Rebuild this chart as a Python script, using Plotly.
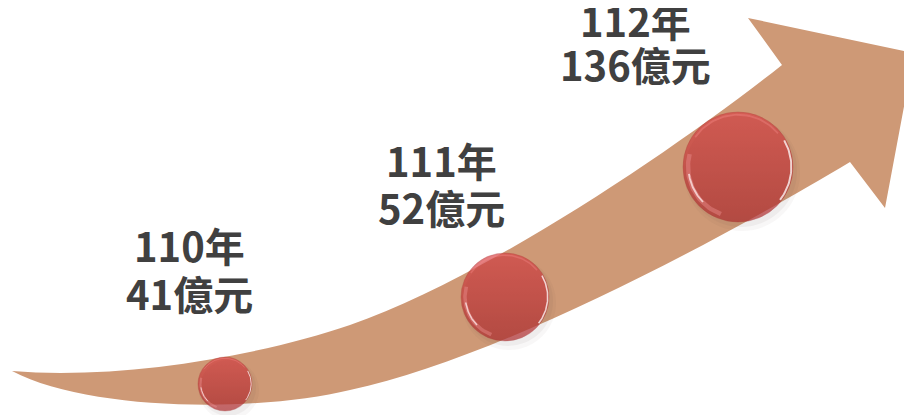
import numpy as np
import plotly.graph_objects as go

# ---- data ----
years = ["110年", "111年", "112年"]
amounts = [41, 52, 136]
unit = "億元"

# ---- layout positions (page pixels, y down) ----
bubble_x = [225, 505, 738]
bubble_y = [384, 297, 167]
bubble_d = [54, 88, 110]
label_x = [189, 441, 635]
label_y_year = [245, 160, 20]
label_y_amount = [293, 207, 64]

PAGE_W, PAGE_H = 912, 415
BODY_MARGIN = 8  # default html body margin
ARROW_COLOR = "#CE9976"
TEXT_COLOR = "#404040"
FONT = "Noto Sans CJK TC"

fig = go.Figure()

arrow_path = (
    "M 12,371 C 120,380 260,356 350,325 "
    "C 490,276 682,144 782,65 "
    "L 748,18 L 914,53 L 885,208 L 850,162 "
    "C 720,240 500,358 350,390 "
    "C 260,412 90,412 12,371 Z"
)
fig.add_shape(type="path", path=arrow_path, xref="x", yref="y",
              fillcolor=ARROW_COLOR, line=dict(width=0), layer="below")

bx = np.array(bubble_x, dtype=float)
by = np.array(bubble_y, dtype=float)
bd = np.array(bubble_d, dtype=float)

# soft shadow
for dx, dy, grow, op in [(4, 6, 6, 0.06), (3, 4, 2, 0.09)]:
    fig.add_trace(go.Scatter(
        x=bx + dx, y=by + dy, mode="markers",
        marker=dict(size=bd + grow, color=f"rgba(90,80,80,{op})", line=dict(width=0)),
        hoverinfo="skip"))

# main bubble (top colour -> bottom colour)
fig.add_trace(go.Scatter(
    x=bx, y=by, mode="markers",
    marker=dict(size=bd, color="#D74446",
                gradient=dict(type="vertical", color="#AD2D2F"),
                line=dict(width=0.6, color="rgba(160,40,40,0.6)")),
    hoverinfo="skip"))


def arc(cx, cy, r, a0, a1, color, width):
    t = np.radians(np.linspace(a0, a1, 40))
    fig.add_trace(go.Scatter(
        x=cx + r * np.cos(t), y=cy + r * np.sin(t), mode="lines",
        line=dict(color=color, width=width), hoverinfo="skip"))


for cx, cy, d in zip(bx, by, bd):
    r = d / 2
    # lower-left glossy rim
    arc(cx, cy, r * 0.91, 110, 195, "rgba(240,150,150,0.40)", max(1.5, r * 0.08))
    arc(cx, cy, r * 0.90, 135, 172, "rgba(255,235,235,0.75)", max(1, r * 0.035))
    # right edge highlight
    arc(cx, cy, r * 0.97, -30, 38, "rgba(255,255,255,0.75)", max(1, r * 0.035))
    # top rim
    arc(cx, cy, r * 0.95, 215, 320, "rgba(245,140,140,0.35)", max(1, r * 0.035))

for i, (yr, amt) in enumerate(zip(years, amounts)):
    for txt, ty in [(yr, label_y_year[i]), (f"{amt}{unit}", label_y_amount[i])]:
        fig.add_annotation(x=label_x[i], y=ty, text=f"<b>{txt}</b>", showarrow=False,
                           xanchor="center", yanchor="middle",
                           font=dict(family=FONT, size=40, color=TEXT_COLOR))

fig.update_layout(
    width=PAGE_W - BODY_MARGIN, height=PAGE_H - BODY_MARGIN,
    margin=dict(l=0, r=0, t=0, b=0),
    paper_bgcolor="white", plot_bgcolor="white",
    showlegend=False, hovermode=False,
    xaxis=dict(range=[BODY_MARGIN, PAGE_W], visible=False, fixedrange=True),
    yaxis=dict(range=[PAGE_H, BODY_MARGIN], visible=False, fixedrange=True),
)
fig.write_html("out.html", config={"displayModeBar": False})
